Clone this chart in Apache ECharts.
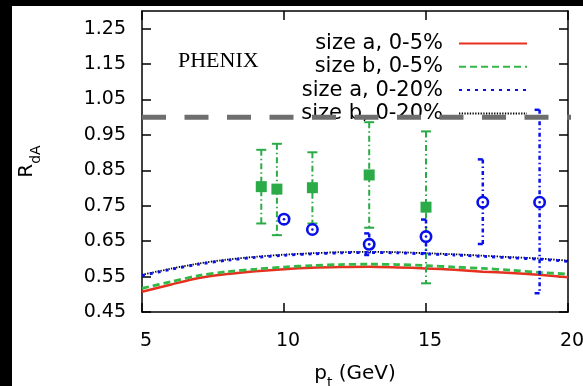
<!DOCTYPE html>
<html><head><meta charset="utf-8">
<script src="https://cdn.jsdelivr.net/npm/echarts@6/dist/echarts.min.js"></script>
<style>
html,body{margin:0;padding:0;background:#000;width:583px;height:386px;overflow:hidden}
#c{position:absolute;left:12px;top:6px;width:571px;height:380px;background:#fff}
</style></head><body><div id="c"></div>
<script>
// ---- data ----
const ptGrid   = [5, 6, 7, 8, 9, 10, 11, 12, 13, 14, 15, 16, 17, 18, 19, 20];
const sizeA05  = [0.507, 0.527, 0.546, 0.557, 0.565, 0.571, 0.575, 0.577, 0.578, 0.576, 0.573, 0.569, 0.564, 0.560, 0.555, 0.548];
const sizeB05  = [0.517, 0.535, 0.553, 0.564, 0.571, 0.577, 0.581, 0.584, 0.585, 0.584, 0.581, 0.577, 0.573, 0.568, 0.562, 0.557];
const sizeA020 = [0.553, 0.570, 0.585, 0.596, 0.604, 0.610, 0.614, 0.617, 0.618, 0.617, 0.614, 0.611, 0.607, 0.603, 0.599, 0.593];
const sizeB020 = [0.555, 0.572, 0.587, 0.598, 0.606, 0.612, 0.616, 0.619, 0.620, 0.619, 0.616, 0.613, 0.609, 0.605, 0.601, 0.595];
const seriesNames = ['size a, 0-5%', 'size b, 0-5%', 'size a, 0-20%', 'size b, 0-20%'];

const greenX  = [9.2, 9.75, 11, 13, 15];
const greenY  = [0.804, 0.797, 0.801, 0.837, 0.746];
const greenLo = [0.700, 0.667, 0.700, 0.688, 0.531];
const greenHi = [0.908, 0.925, 0.901, 0.986, 0.960];

const blueX  = [10, 11, 13, 15, 17, 19];
const blueY  = [0.712, 0.683, 0.641, 0.663, 0.760, 0.760];
const blueLo = [null, null, 0.611, 0.616, 0.642, 0.503];
const blueHi = [null, null, 0.672, 0.711, 0.881, 1.021];

const refX = [5, 20.6];
const refY = [1.0, 1.0];

const xTicks = [5, 10, 15, 20];
const yTicks = [0.45, 0.55, 0.65, 0.75, 0.85, 0.95, 1.05, 1.15, 1.25];

// ---- chart ----
const RED = '#e5311f', GREEN = '#2bab48', BLUE = '#0a10e8', GREY = '#6e6e6e';
const zip = (xs, ys) => xs.map((x, i) => [x, ys[i]]);
const FONT = 'DejaVu Sans';

const chart = echarts.init(document.getElementById('c'), null, {renderer: 'canvas'});

function axisCommon(showLabel) {
  return {
    axisLine: {show: true, lineStyle: {color: '#000', width: 1.5}},
    axisTick: {show: true, inside: true, length: 9, lineStyle: {color: '#000', width: 1.5}},
    splitLine: {show: false},
    axisLabel: {show: showLabel}
  };
}

const greenBars = greenX.map((x, i) => [x, greenY[i], greenLo[i], greenHi[i]]);
const blueBars  = blueX.map((x, i) => [x, blueY[i], blueLo[i] == null ? NaN : blueLo[i], blueHi[i] == null ? NaN : blueHi[i]]);

chart.setOption({
  animation: false,
  backgroundColor: '#fff',
  grid: {left: 130, right: 15, top: 5, bottom: 74, containLabel: false, outerBoundsMode: 'none'},
  title: {
    text: 'PHENIX', left: 161, top: 39,
    textStyle: {fontFamily: 'Liberation Serif', fontWeight: 'normal', fontSize: 22, color: '#000'}
  },
  legend: {
    orient: 'vertical', right: 50, top: 22, align: 'right',
    itemWidth: 68, itemHeight: 14, itemGap: 2.3, selectedMode: false,
    itemStyle: {opacity: 0},
    textStyle: {fontFamily: FONT, fontSize: 21, color: '#000', lineHeight: 21, padding: [0, 11, 0, 0]},
    data: seriesNames
  },
  xAxis: [
    Object.assign({
      type: 'value', min: 5, max: 20, interval: 5, position: 'bottom',
      name: '{a|p}{b|t}{a| (GeV)}', nameLocation: 'middle', nameGap: 48,
      nameTextStyle: {rich: {
        a: {fontFamily: FONT, fontSize: 20, color: '#000', verticalAlign: 'bottom', lineHeight: 24},
        b: {fontFamily: FONT, fontSize: 14, color: '#000', verticalAlign: 'bottom', lineHeight: 24, padding: [0, 0, -6, 0]}
      }}
    }, axisCommon(true), {
      axisLabel: {show: true, fontFamily: FONT, fontSize: 19, color: '#000', margin: 20, padding: [0, 0, 0, 8],
        customValues: xTicks, formatter: v => String(v)},
      axisTick: {show: true, inside: true, length: 9, customValues: xTicks, lineStyle: {color: '#000', width: 1.5}}
    }),
    Object.assign({type: 'value', min: 5, max: 20, interval: 5, position: 'top'}, axisCommon(false), {
      axisTick: {show: true, inside: true, length: 9, customValues: xTicks, lineStyle: {color: '#000', width: 1.5}}
    })
  ],
  yAxis: [
    Object.assign({
      type: 'value', min: 0.45, max: 1.30, interval: 0.05, position: 'left',
      name: '{a|R}{b|dA}', nameLocation: 'middle', nameGap: 105,
      nameTextStyle: {rich: {
        a: {fontFamily: FONT, fontSize: 20, color: '#000', verticalAlign: 'bottom', lineHeight: 24},
        b: {fontFamily: FONT, fontSize: 14, color: '#000', verticalAlign: 'bottom', lineHeight: 24, padding: [0, 0, -6, 0]}
      }}
    }, axisCommon(true), {
      axisLabel: {show: true, fontFamily: FONT, fontSize: 19, color: '#000', margin: 16,
        customValues: yTicks, formatter: v => v.toFixed(2)},
      axisTick: {show: true, inside: true, length: 9, customValues: yTicks, lineStyle: {color: '#000', width: 1.5}}
    }),
    Object.assign({type: 'value', min: 0.45, max: 1.30, interval: 0.05, position: 'right'}, axisCommon(false), {
      axisTick: {show: true, inside: true, length: 9, customValues: yTicks, lineStyle: {color: '#000', width: 1.5}}
    })
  ],
  series: [
    {name: seriesNames[0], type: 'line', data: zip(ptGrid, sizeA05), symbol: 'none', smooth: 0.3, z: 3,
      lineStyle: {color: RED, width: 2.5, type: 'solid'}, itemStyle: {color: RED}},
    {name: seriesNames[1], type: 'line', data: zip(ptGrid, sizeB05), symbol: 'none', smooth: 0.3, z: 3,
      lineStyle: {color: '#33b845', width: 2.8, type: [7, 4]}, itemStyle: {color: '#33b845'}},
    {name: seriesNames[2], type: 'line', data: zip(ptGrid, sizeA020), symbol: 'none', smooth: 0.3, z: 4,
      lineStyle: {color: BLUE, width: 2.8, type: [3, 5]}, itemStyle: {color: BLUE}},
    {name: seriesNames[3], type: 'line', data: zip(ptGrid, sizeB020), symbol: 'none', smooth: 0.3, z: 3,
      lineStyle: {color: '#000', width: 1.8, type: [1.3, 1.4]}, itemStyle: {color: '#000'}},
    {name: 'ref', type: 'line', data: zip(refX, refY), symbol: 'none', clip: false, z: 10, silent: true,
      lineStyle: {color: GREY, width: 5, type: [24, 18.5]}},
    {name: 'green err', type: 'custom', z: 5, data: greenBars,
      renderItem: function (params, api) {
        const x = api.value(0);
        const top = api.coord([x, api.value(3)]);
        const bot = api.coord([x, api.value(2)]);
        const st = {stroke: GREEN, lineWidth: 2};
        return {type: 'group', children: [
          {type: 'line', shape: {x1: top[0], y1: top[1], x2: bot[0], y2: bot[1]}, style: Object.assign({lineDash: [6, 3, 1.5, 3]}, st)},
          {type: 'line', shape: {x1: top[0] - 5, y1: top[1], x2: top[0] + 5, y2: top[1]}, style: st},
          {type: 'line', shape: {x1: bot[0] - 5, y1: bot[1], x2: bot[0] + 5, y2: bot[1]}, style: st}
        ]};
      }},
    {name: 'green pts', type: 'scatter', z: 6, data: zip(greenX, greenY), symbol: 'rect', symbolSize: 11,
      itemStyle: {color: GREEN, opacity: 1}},
    {name: 'blue pts', type: 'custom', z: 7, data: blueBars,
      renderItem: function (params, api) {
        const x = api.value(0);
        const c = api.coord([x, api.value(1)]);
        const st = {stroke: BLUE, lineWidth: 2.5};
        const kids = [];
        const lo = api.value(2), hi = api.value(3);
        if (!isNaN(lo) && !isNaN(hi)) {
          const top = api.coord([x, hi]);
          const bot = api.coord([x, lo]);
          kids.push({type: 'line', shape: {x1: top[0], y1: top[1], x2: bot[0], y2: bot[1]}, style: Object.assign({lineDash: [4, 3, 1.5, 3]}, st)});
          kids.push({type: 'line', shape: {x1: top[0] - 5, y1: top[1], x2: top[0], y2: top[1]}, style: st});
          kids.push({type: 'line', shape: {x1: bot[0] - 5, y1: bot[1], x2: bot[0], y2: bot[1]}, style: st});
        }
        kids.push({type: 'circle', shape: {cx: c[0], cy: c[1], r: 5.2}, style: {fill: '#fff', stroke: BLUE, lineWidth: 2.6}});
        kids.push({type: 'circle', shape: {cx: c[0], cy: c[1], r: 1.3}, style: {fill: BLUE}});
        return {type: 'group', children: kids};
      }}
  ]
});
</script></body></html>
